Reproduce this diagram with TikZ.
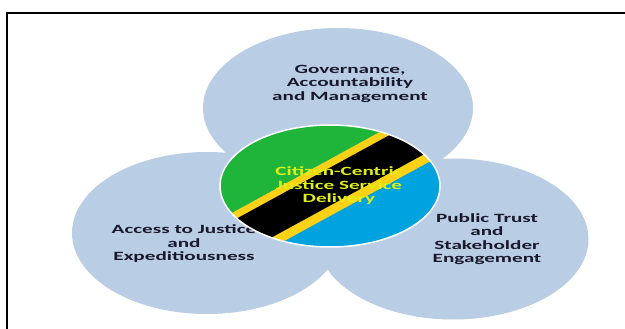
\documentclass[tikz,border=0pt]{standalone}
\usepackage{fontspec}
\setmainfont{DejaVu Sans}
\newfontfamily\widefont[FakeStretch=1.68]{Carlito Bold}
\definecolor{petal}{RGB}{185,205,229}
\definecolor{flaggreen}{RGB}{30,181,58}
\definecolor{flagblue}{RGB}{0,163,221}
\definecolor{flagyellow}{RGB}{252,209,22}
\definecolor{hubtext}{RGB}{222,240,20}
\definecolor{ink}{RGB}{25,25,45}
\tikzset{
  petalshape/.style={fill=petal,draw=none},
  petaltext/.style={align=center,text=ink,inner sep=0pt,font=\widefont\fontsize{12.6}{13.5}\selectfont},
  hubtextstyle/.style={align=center,text=hubtext,inner sep=0pt,font=\widefont\fontsize{12.6}{13.5}\selectfont},
}
\begin{document}
\begin{tikzpicture}[x=1pt,y=-1pt]
\useasboundingbox (0,0) rectangle (625,329);
\fill[white] (0,0) rectangle (625,329);
\draw[black,line width=1.5pt] (7,329) -- (7,13) -- (625,13);
\fill[petalshape] (338,108) ellipse [x radius=135,y radius=80];
\fill[petalshape] (207,233) ellipse [x radius=135,y radius=81];
\fill[petalshape] (453,239) ellipse [x radius=135.5,y radius=80.5];
\node[petaltext] (gov) at (350,83.5) {Governance,\\Accountability\\and Management};
\node[petaltext] (acc) at (184,244) {Access to Justice\\and\\Expeditiousness};
\node[petaltext] (pub) at (487,239) {Public Trust\\and\\Stakeholder\\Engagement};
\begin{scope}
\clip (330,186) ellipse [x radius=110,y radius=61];
\fill[flagblue] (200,80) rectangle (460,295);
\fill[flaggreen] (200,80) -- (460,80) -- (460,88) -- (200,230.5) -- cycle;
\fill[flagyellow] (460,88) -- (200,230.5) -- (200,287) -- (460,145) -- cycle;
\fill[black] (460,96.6) -- (200,238.6) -- (200,276.6) -- (460,134.6) -- cycle;
\end{scope}
\draw[white,line width=1.5pt] (330,186) ellipse [x radius=110,y radius=61];
\node[hubtextstyle] (hub) at (339,186) {Citizen-Centric\\Justice Service\\Delivery};
\end{tikzpicture}
\end{document}
